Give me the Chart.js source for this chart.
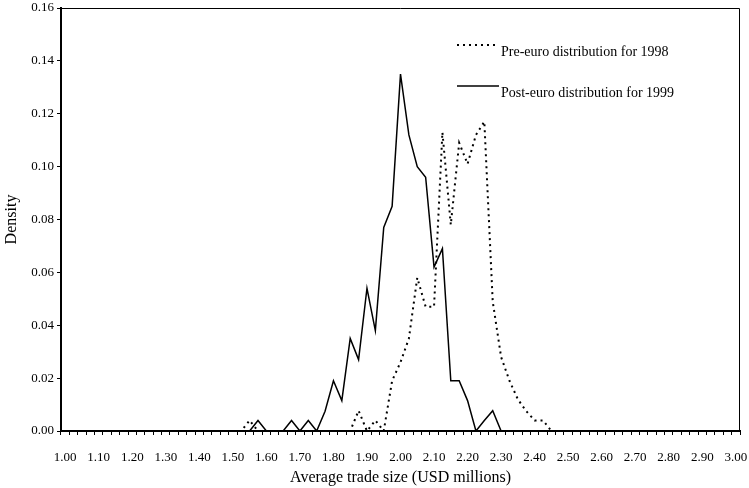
<!DOCTYPE html>
<html>
<head>
<meta charset="utf-8">
<script src="https://cdn.jsdelivr.net/npm/chart.js@4.4.0/dist/chart.umd.min.js"></script>
<style>
  html, body { margin: 0; padding: 0; background: #fff; }
  #wrap { width: 749px; height: 488px; position: relative; }
</style>
</head>
<body>
<div id="wrap"><canvas id="densityChart"></canvas></div>
<script>
// trade size buckets (USD millions), one every 0.025
const categories = [
  "1.000", "1.025", "1.050", "1.075", "1.100", "1.125", "1.150", "1.175", "1.200", "1.225",
  "1.250", "1.275", "1.300", "1.325", "1.350", "1.375", "1.400", "1.425", "1.450", "1.475",
  "1.500", "1.525", "1.550", "1.575", "1.600", "1.625", "1.650", "1.675", "1.700", "1.725",
  "1.750", "1.775", "1.800", "1.825", "1.850", "1.875", "1.900", "1.925", "1.950", "1.975",
  "2.000", "2.025", "2.050", "2.075", "2.100", "2.125", "2.150", "2.175", "2.200", "2.225",
  "2.250", "2.275", "2.300", "2.325", "2.350", "2.375", "2.400", "2.425", "2.450", "2.475",
  "2.500", "2.525", "2.550", "2.575", "2.600", "2.625", "2.650", "2.675", "2.700", "2.725",
  "2.750", "2.775", "2.800", "2.825", "2.850", "2.875", "2.900", "2.925", "2.950", "2.975",
  "3.000"
];

// labels shown under every 4th bucket
const tickLabels = [
  "1.00", "1.10", "1.20", "1.30", "1.40", "1.50", "1.60", "1.70", "1.80", "1.90", "2.00",
  "2.10", "2.20", "2.30", "2.40", "2.50", "2.60", "2.70", "2.80", "2.90", "3.00"
];

const yTicks = [0, 0.02, 0.04, 0.06, 0.08, 0.10, 0.12, 0.14, 0.16];

const pre1998 = [
  0, 0, 0, 0, 0, 0, 0, 0, 0, 0,
  0, 0, 0, 0, 0, 0, 0, 0, 0, 0,
  0, 0, 0.004, 0, 0, 0, 0, 0, 0, 0,
  0, 0, 0, 0, 0, 0.0077, 0, 0.004, 0, 0.019,
  0.026, 0.035, 0.058, 0.047, 0.047, 0.113, 0.078, 0.109, 0.101, 0.112,
  0.117, 0.049, 0.028, 0.019, 0.012, 0.0075, 0.004, 0.004, 0, 0,
  0, 0, 0, 0, 0, 0, 0, 0, 0, 0,
  0, 0, 0, 0, 0, 0, 0, 0, 0, 0,
  0
];

const post1999 = [
  0, 0, 0, 0, 0, 0, 0, 0, 0, 0,
  0, 0, 0, 0, 0, 0, 0, 0, 0, 0,
  0, 0, 0, 0.004, 0, 0, 0, 0.004, 0, 0.004,
  0, 0.0075, 0.019, 0.0115, 0.035, 0.027, 0.054, 0.038, 0.077, 0.085,
  0.135, 0.112, 0.100, 0.096, 0.062, 0.069, 0.019, 0.019, 0.0115, 0,
  0.004, 0.0077, 0, 0, 0, 0, 0, 0, 0, 0,
  0, 0, 0, 0, 0, 0, 0, 0, 0, 0,
  0, 0, 0, 0, 0, 0, 0, 0, 0, 0,
  0
];

const serif = '"Liberation Serif", "Times New Roman", serif';

// legend sits inside the plot, Excel style
const insideLegend = {
  id: "insideLegend",
  afterDraw(chart) {
    const ctx = chart.ctx;
    chart.data.datasets.forEach((ds, k) => {
      const y = 45 + k * 41;
      ctx.save();
      ctx.strokeStyle = ds.borderColor;
      ctx.lineWidth = ds.borderWidth;
      ctx.setLineDash(ds.borderDash || []);
      ctx.beginPath();
      ctx.moveTo(457, y);
      ctx.lineTo(499, y);
      ctx.stroke();
      ctx.setLineDash([]);
      ctx.fillStyle = "#000";
      ctx.font = "14px " + serif;
      ctx.textBaseline = "alphabetic";
      ctx.fillText(ds.label, 501, y + 11);
      ctx.restore();
    });
  }
};

// thin frame on top and right of the plot
const plotFrame = {
  id: "plotFrame",
  afterDraw(chart) {
    const a = chart.chartArea;
    const ctx = chart.ctx;
    ctx.save();
    ctx.strokeStyle = "#000";
    ctx.lineWidth = 1;
    ctx.beginPath();
    ctx.moveTo(a.left, a.top + 0.5);
    ctx.lineTo(a.right - 0.5, a.top + 0.5);
    ctx.lineTo(a.right - 0.5, a.bottom);
    ctx.stroke();
    ctx.restore();
  }
};

const ctx = document.getElementById("densityChart").getContext("2d");

new Chart(ctx, {
  type: "line",
  data: {
    labels: categories,
    datasets: [
      {
        label: "Pre-euro distribution for 1998",
        data: pre1998,
        borderColor: "#000",
        borderWidth: 2,
        borderDash: [2, 4],
        pointRadius: 0,
        tension: 0,
        fill: false
      },
      {
        label: "Post-euro distribution for 1999",
        data: post1999,
        borderColor: "#000",
        borderWidth: 1.5,
        pointRadius: 0,
        tension: 0,
        fill: false
      }
    ]
  },
  options: {
    responsive: true,
    maintainAspectRatio: false,
    animation: false,
    layout: { padding: { left: 0, right: 9, top: 8, bottom: 0 } },
    plugins: {
      legend: { display: false },
      tooltip: { enabled: false }
    },
    scales: {
      x: {
        type: "category",
        offset: true,
        afterFit: (s) => {
          s.height = 57;
          s.paddingLeft = 0;
          s.paddingRight = 0;
        },
        grid: {
          offset: true,
          drawOnChartArea: false,
          drawTicks: true,
          tickLength: 4,
          color: "#000"
        },
        border: { display: true, color: "#000", width: 2 },
        ticks: {
          autoSkip: false,
          maxRotation: 0,
          minRotation: 0,
          padding: 15,
          color: "#000",
          font: { family: serif, size: 13 },
          callback: (value, index) => (index % 4 === 0 ? tickLabels[index / 4] : "")
        },
        title: {
          display: true,
          text: "Average trade size (USD millions)",
          color: "#000",
          font: { family: serif, size: 16 },
          padding: { top: 0, bottom: 1 }
        }
      },
      y: {
        min: 0,
        max: 0.16,
        afterFit: (s) => {
          s.width = 61;
          s.paddingTop = 0;
          s.paddingBottom = 0;
        },
        afterBuildTicks: (s) => { s.ticks = yTicks.map((v) => ({ value: v })); },
        grid: {
          drawOnChartArea: false,
          drawTicks: true,
          tickLength: 4,
          color: "#000"
        },
        border: { display: true, color: "#000", width: 2 },
        ticks: {
          padding: 3,
          color: "#000",
          font: { family: serif, size: 13 },
          callback: (v) => Number(v).toFixed(2)
        },
        title: {
          display: true,
          text: "Density",
          color: "#000",
          font: { family: serif, size: 16 },
          padding: { top: 2, bottom: 0 }
        }
      }
    }
  },
  plugins: [insideLegend, plotFrame]
});
</script>
</body>
</html>
